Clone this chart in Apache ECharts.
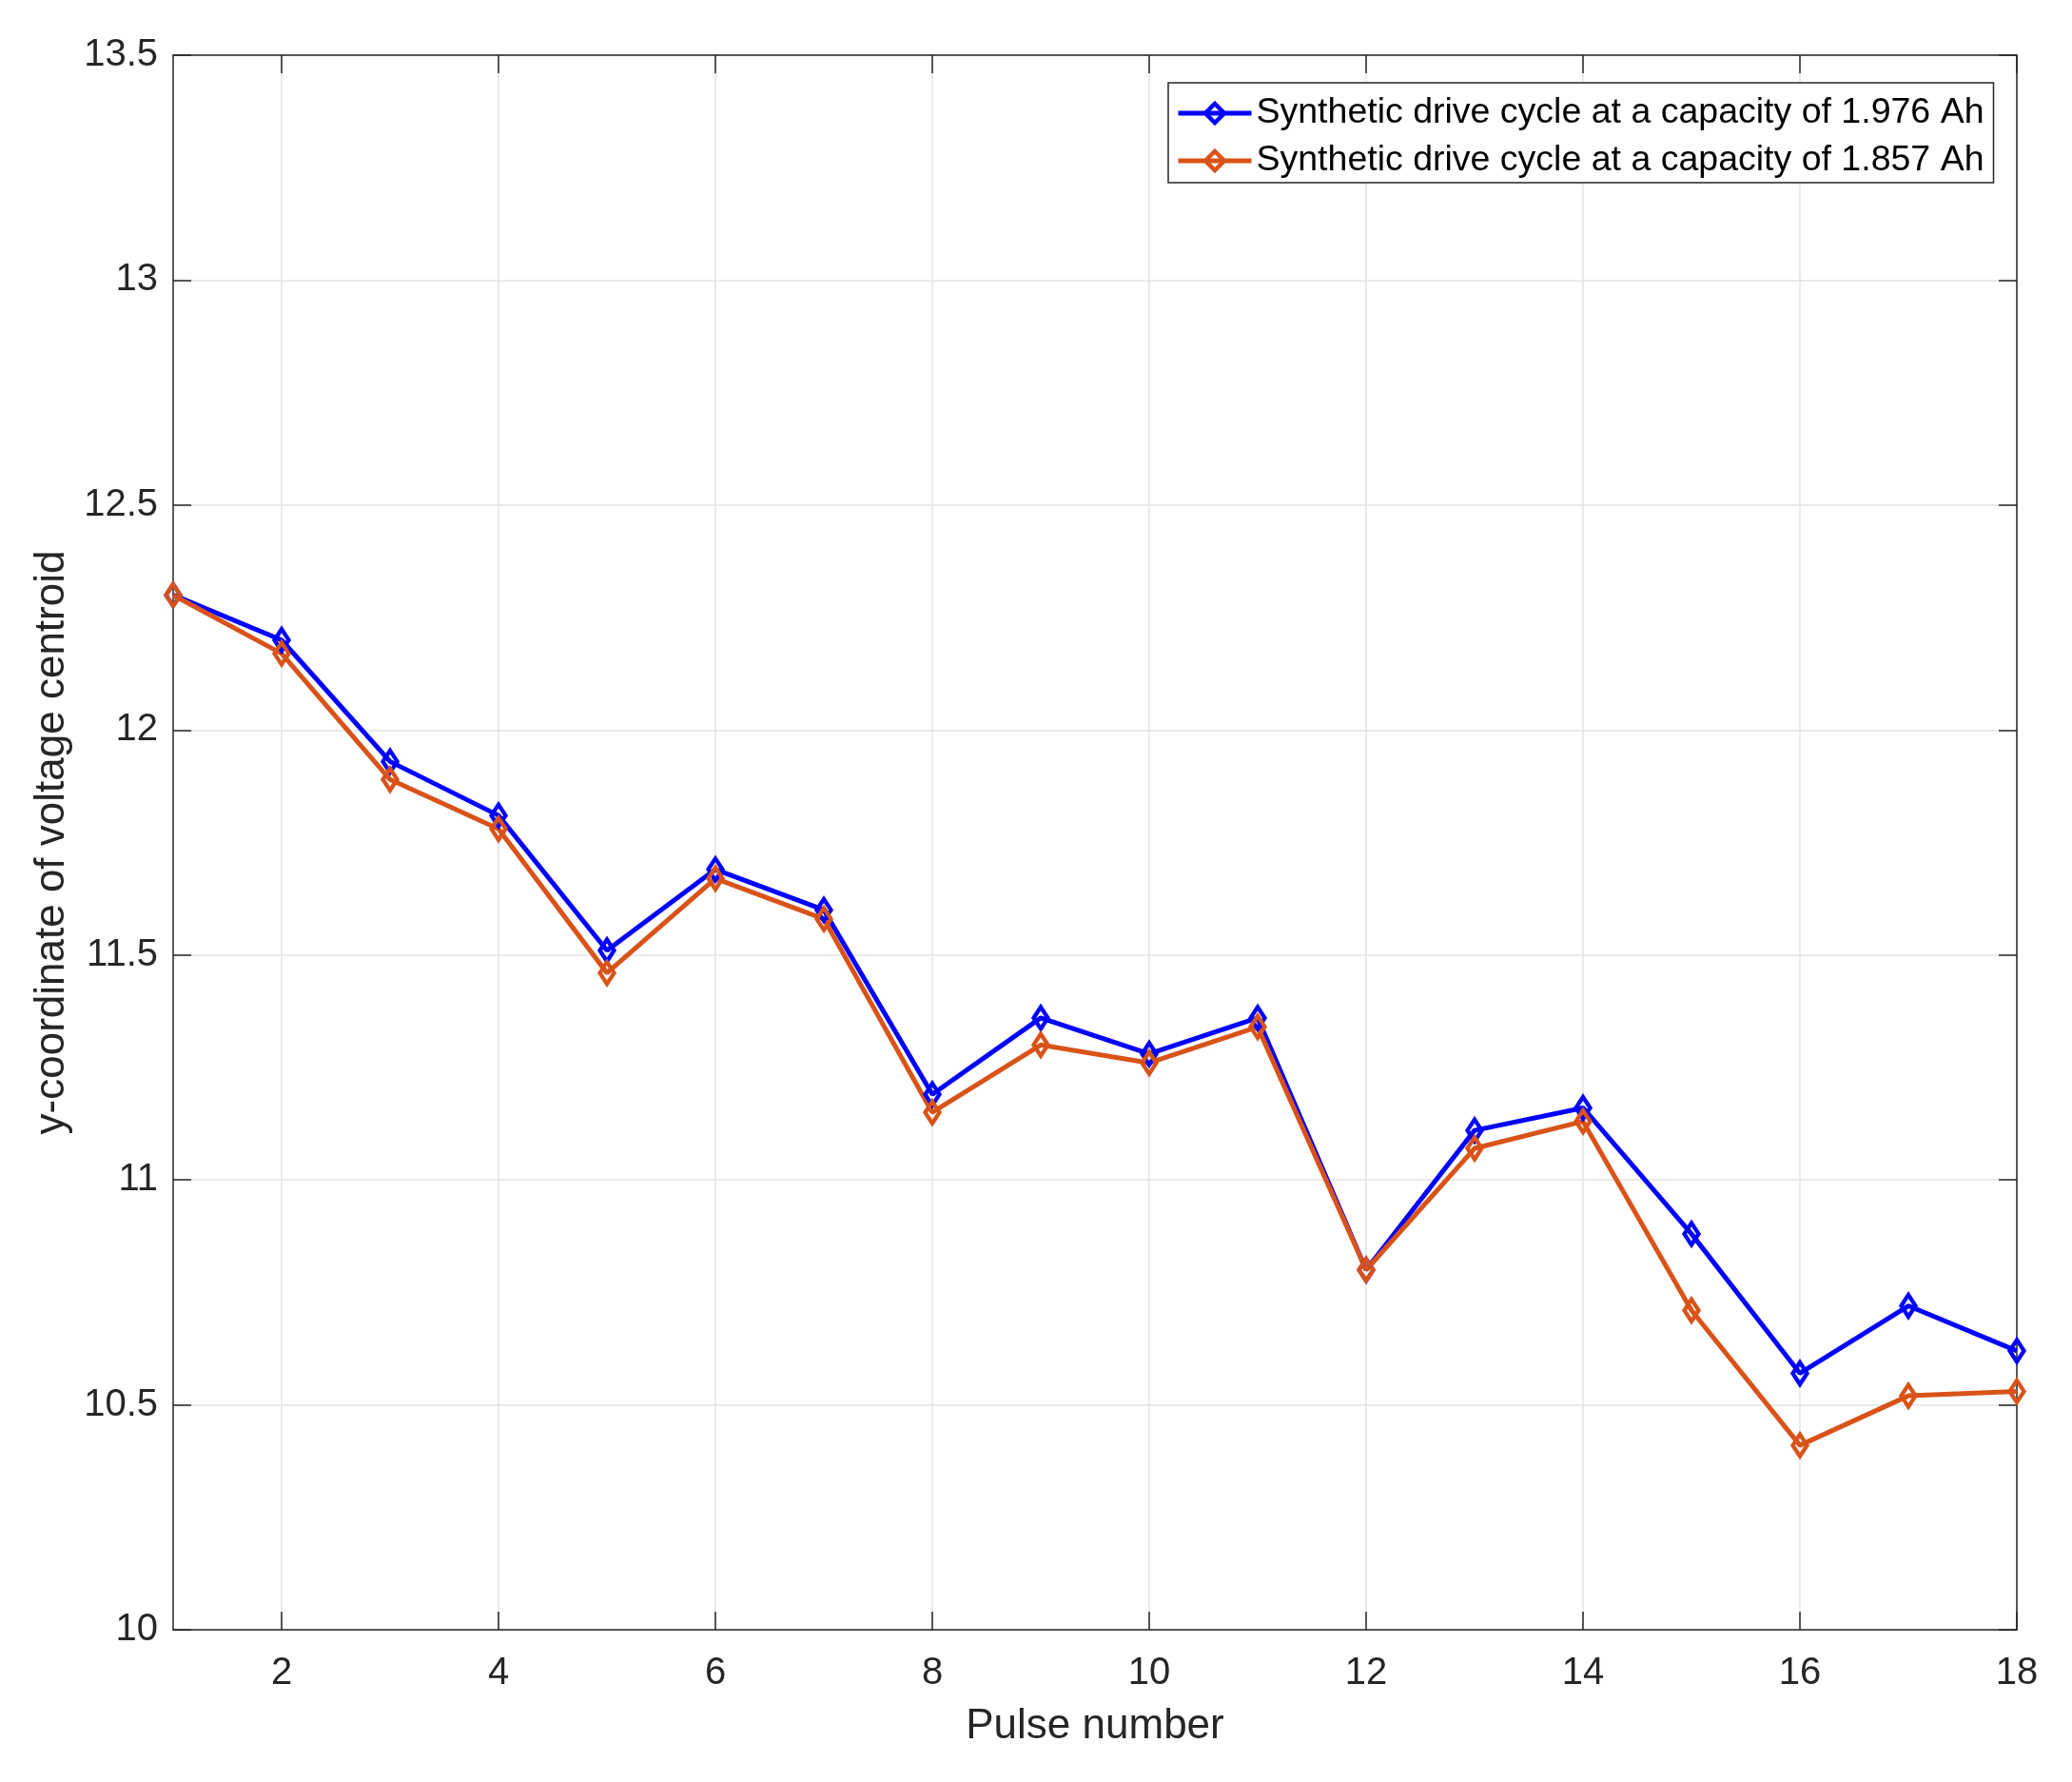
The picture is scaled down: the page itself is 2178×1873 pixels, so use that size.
<!DOCTYPE html>
<html>
<head>
<meta charset="utf-8">
<script src="https://cdn.jsdelivr.net/npm/echarts@6/dist/echarts.min.js"></script>
<style>html,body{margin:0;padding:0;background:#fff;}#c{width:2178px;height:1873px;}</style>
</head>
<body>
<div id="c"></div>
<script>
var pulses = ['1','2','3','4','5','6','7','8','9','10','11','12','13','14','15','16','17','18'];
var seriesNames = ['Synthetic drive cycle at a capacity of 1.976 Ah', 'Synthetic drive cycle at a capacity of 1.857 Ah'];
var blueValues = [12.30, 12.20, 11.93, 11.81, 11.51, 11.69, 11.60, 11.19, 11.36, 11.28, 11.36, 10.80, 11.11, 11.16, 10.88, 10.57, 10.72, 10.62];
var orangeValues = [12.30, 12.17, 11.89, 11.78, 11.46, 11.67, 11.58, 11.15, 11.30, 11.26, 11.34, 10.80, 11.07, 11.13, 10.71, 10.41, 10.52, 10.53];
var xTitle = 'Pulse number';
var yTitle = 'y-coordinate of voltage centroid';

var FONT = '"Liberation Sans", Arial, sans-serif';
var TXT = '#262626';
var evenOnly = function (idx) { return (idx + 1) % 2 === 0; };

var chart = echarts.init(document.getElementById('c'), null, {renderer: 'canvas'});
function mkSeries(name, data, color) {
  return {
    name: name, type: 'line', data: data,
    xAxisIndex: 0, yAxisIndex: 0,
    symbol: 'diamond', symbolSize: [15, 23],
    lineStyle: {color: color, width: 5},
    itemStyle: {color: 'rgba(255,255,255,0)', borderColor: color, borderWidth: 4.5},
    emphasis: {disabled: true},
    animation: false
  };
}
chart.setOption({
  animation: false,
  backgroundColor: '#fff',
  textStyle: {fontFamily: FONT, color: TXT},
  grid: {left: 182, right: 58, top: 58, bottom: 160, containLabel: false},
  legend: {
    left: 1228, top: 87, orient: 'vertical',
    data: seriesNames,
    backgroundColor: '#fff',
    borderColor: '#262626', borderWidth: 1.5,
    padding: [13, 10, 4, 8],
    itemGap: 12, itemWidth: 77, itemHeight: 25,
    lineStyle: {width: 5},
    itemStyle: {borderWidth: 4.5},
    textStyle: {fontFamily: FONT, fontSize: 37.5, color: '#000', lineHeight: 38}
  },
  xAxis: [{
    type: 'category', data: pulses, boundaryGap: false,
    name: xTitle, nameLocation: 'middle', nameGap: 80,
    nameTextStyle: {fontFamily: FONT, fontSize: 44, color: TXT},
    axisLine: {show: true, lineStyle: {color: TXT, width: 1.5}},
    axisTick: {show: true, inside: true, length: 19, interval: evenOnly, lineStyle: {color: TXT, width: 1.5}},
    axisLabel: {interval: evenOnly, margin: 26, fontFamily: FONT, fontSize: 40, color: TXT},
    splitLine: {show: true, interval: evenOnly, lineStyle: {color: '#e3e3e3', width: 1.5}}
  }, {
    type: 'category', data: pulses, boundaryGap: false, position: 'top',
    axisLine: {show: true, lineStyle: {color: TXT, width: 1.5}},
    axisTick: {show: true, inside: true, length: 19, interval: evenOnly, lineStyle: {color: TXT, width: 1.5}},
    axisLabel: {show: false},
    splitLine: {show: false}
  }],
  yAxis: [{
    type: 'value', min: 10, max: 13.5, interval: 0.5,
    name: yTitle, nameLocation: 'middle', nameGap: 100, nameRotate: 90,
    nameTextStyle: {fontFamily: FONT, fontSize: 44, color: TXT},
    axisLine: {show: true, lineStyle: {color: TXT, width: 1.5}},
    axisTick: {show: true, inside: true, length: 19, lineStyle: {color: TXT, width: 1.5}},
    axisLabel: {margin: 16, fontFamily: FONT, fontSize: 40, color: TXT},
    splitLine: {show: true, lineStyle: {color: '#e3e3e3', width: 1.5}}
  }, {
    type: 'value', min: 10, max: 13.5, interval: 0.5, position: 'right',
    axisLine: {show: true, lineStyle: {color: TXT, width: 1.5}},
    axisTick: {show: true, inside: true, length: 19, lineStyle: {color: TXT, width: 1.5}},
    axisLabel: {show: false},
    splitLine: {show: false}
  }],
  series: [
    mkSeries(seriesNames[0], blueValues, '#0000ff'),
    mkSeries(seriesNames[1], orangeValues, '#d95319')
  ]
});
</script>
</body>
</html>
